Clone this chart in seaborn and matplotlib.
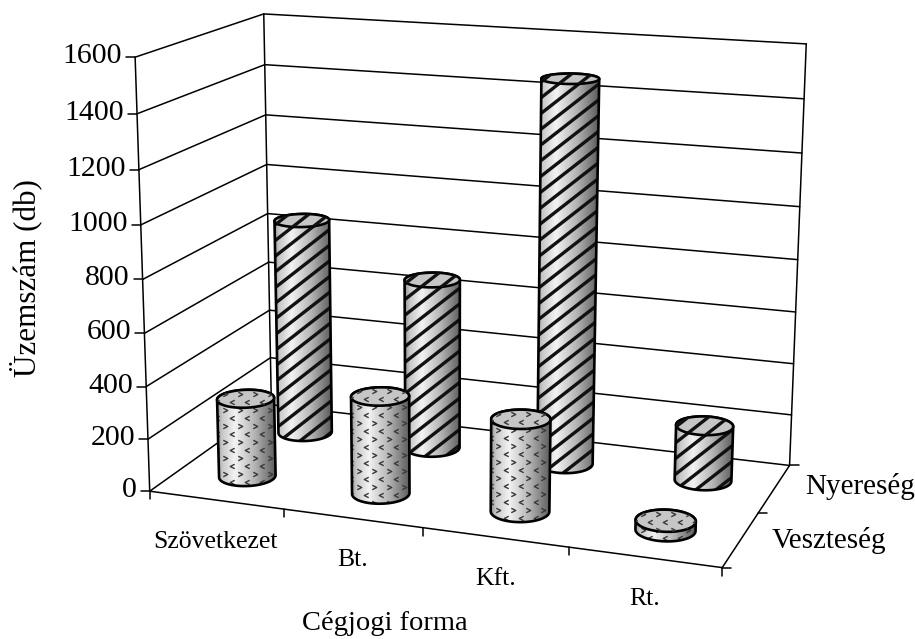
import numpy as np
import pandas as pd
import matplotlib.pyplot as plt
from matplotlib.path import Path
from matplotlib.patches import Polygon
import seaborn as sns

## Daten
categories = ['Szövetkezet', 'Bt.', 'Kft.', 'Rt.']
series_names = ['Veszteség', 'Nyereség']
veszteseg = [302, 370, 345, 35]
nyereseg = [855, 668, 1470, 212]
yticks = [0, 200, 400, 600, 800, 1000, 1200, 1400, 1600]
ymax = 1600

sns.set_theme(style='white')
plt.rcParams['font.family'] = ['Liberation Serif', 'DejaVu Serif']

fig = plt.figure(figsize=(9.15, 6.39), dpi=100)
ax = fig.add_axes([0, 0, 1, 1])
ax.set_xlim(0, 915)
ax.set_ylim(639, 0)
ax.axis('off')

## Kamera: Ecken der Box (Kategorie, Reihe, Wert) -> Pixel
box = np.array([[0, 0, 0], [0, 0, 1], [0, 1, 0], [0, 1, 1], [1, 1, 0], [1, 1, 1], [1, 0, 0]], float)
pix = np.array([[151, 491], [134, 57], [270, 405], [265, 14], [790, 465], [806, 44], [722, 568]], float)
rows = []
for b, p in zip(box, pix):
    h = [*b, 1]
    rows.append([*h, 0, 0, 0, 0, *[-p[0] * v for v in h]])
    rows.append([0, 0, 0, 0, *h, *[-p[1] * v for v in h]])
P = np.linalg.svd(np.array(rows))[2][-1].reshape(3, 4)


def project(cat, ser, val):
    # cat 0..4, ser 0..2, val in Daten-Einheiten
    cat, ser, val = np.broadcast_arrays(cat, ser, val)
    h = np.stack([cat / 4, ser / 2, val / ymax, np.ones(cat.shape)])
    q = P @ h.reshape(4, -1)
    return (q[:2] / q[2]).reshape(2, *cat.shape)


## Gitter und Rahmen
segs = []
def seg_px(xa, ya, xb, yb):
    segs.append(pd.DataFrame({'x': [xa, xb], 'y': [ya, yb], 'id': len(segs)}))

def seg(a, b):
    pa, pb = project(*a), project(*b)
    seg_px(pa[0], pa[1], pb[0], pb[1])

for v in yticks:
    seg((0, 0, v), (0, 2, v))
    seg((0, 2, v), (4, 2, v))
    a = project(0, 0, v)
    seg_px(a[0] - 9, a[1], a[0], a[1])
seg((0, 0, 0), (0, 0, ymax))
seg((0, 2, 0), (0, 2, ymax))
seg((4, 2, 0), (4, 2, ymax))
seg((0, 0, 0), (4, 0, 0))
seg((4, 0, 0), (4, 2, 0))
for c in range(0, 5):
    a = project(c, 0, 0)
    seg_px(a[0], a[1], a[0], a[1] + 8)
for s in [0, 1, 2]:
    a = project(4, s, 0)
    seg_px(a[0], a[1], a[0] + 9, a[1])
lines = pd.concat(segs)
sns.lineplot(data=lines, x='x', y='y', units='id', estimator=None, sort=False,
             color='black', lw=1.1, legend=False, ax=ax)
ax.set_xlabel('')
ax.set_ylabel('')

## Muster
def stripes(clip, x0, x1, y0, y1, z):
    slope = 0.78
    gap = 15.7
    for o in np.arange(y0 - 20, y1 + slope * (x1 - x0) + gap, gap):
        ln, = ax.plot([x0, x1], [o, o - slope * (x1 - x0)], color='#111111', lw=2.4, zorder=z, solid_capstyle='butt')
        ln.set_clip_path(clip)


chev_r = Path([(-1, 1), (1, 0), (-1, -1)], [Path.MOVETO, Path.LINETO, Path.LINETO])
chev_l = Path([(1, 1), (-1, 0), (1, -1)], [Path.MOVETO, Path.LINETO, Path.LINETO])

def chevrons(clip, x0, x1, y0, y1, z):
    for i, y in enumerate(np.arange(y0 - 4, y1 + 8, 8)):
        xs = np.arange(x0 + (i % 2) * 7.5, x1 + 15, 15)
        ln, = ax.plot(xs, np.full(xs.shape, y), ls='none', marker=chev_r if i % 2 else chev_l, ms=3.2,
                      mfc='none', mec='#3a3a3a', mew=1.0, zorder=z)
        ln.set_clip_path(clip)


## Zylinder
t = np.linspace(0, 2 * np.pi, 241)[:-1]
rad_c, rad_s = 0.195, 0.2
shade = np.interp(np.linspace(0, 1, 60), [0, 0.08, 0.3, 0.65, 1], [0.6, 0.78, 0.95, 0.7, 0.36])

def cylinder(cat, ser, val, pattern, z):
    cc = cat + 0.5 + rad_c * np.cos(t)
    ss = ser + 0.5 + rad_s * np.sin(t)
    top = project(cc, ss, np.full(t.shape, float(val)))
    bot = project(cc, ss, np.zeros(t.shape))
    il, ir = top[0].argmin(), top[0].argmax()
    idx = np.roll(np.arange(len(t)), -il)
    pos = (ir - il) % len(t)
    arc_a, arc_b = idx[:pos + 1], idx[pos:]
    # untere Haelfte = Bogen mit groesserem y in Pixeln
    if bot[1][arc_a].mean() > bot[1][arc_b].mean():
        lower, upper = arc_a, np.append(arc_b, il)[::-1]
    else:
        lower, upper = np.append(arc_b, il)[::-1], arc_a
    body = np.array(bot[:, lower].T.tolist() + top[:, upper[::-1]].T.tolist())
    poly = Polygon(body, closed=True, fc='none', ec='black', lw=1.9, zorder=z + 0.5, joinstyle='round')
    ax.add_patch(poly)
    x0, x1, y0, y1 = body[:, 0].min(), body[:, 0].max(), body[:, 1].min(), body[:, 1].max()
    im = ax.imshow(shade[None, :], cmap='gray', vmin=0, vmax=1, extent=[x0, x1, y1, y0], aspect='auto', zorder=z)
    im.set_clip_path(poly)
    pattern(poly, x0, x1, y0, y1, z + 0.1)
    cap = Polygon(top.T, closed=True, fc='#c6c6c6', ec='black', lw=1.9, zorder=z + 0.6)
    ax.add_patch(cap)
    pattern(cap, x0, x1, y0, y1, z + 0.7)


zz = 3
for i, v in enumerate(nyereseg):
    cylinder(i, 1, v, stripes, zz)
    zz += 1
for i, v in enumerate(veszteseg):
    cylinder(i, 0, v, chevrons, zz)
    zz += 1
ax.set_xlim(0, 915)
ax.set_ylim(639, 0)

## Texte
for v in yticks:
    a = project(0, 0, v)
    ax.text(a[0] - 13, a[1] - 1, str(v), ha='right', va='center', fontsize=21.5, color='black')
for i, c in enumerate(categories):
    a = project(i + 0.5, 0, 0)
    ax.text(a[0], a[1] + 42, c, ha='center', va='center', fontsize=18.5, color='black')
ax.text(772, 540, series_names[0], ha='left', va='center', fontsize=21, color='black')
ax.text(805, 487, series_names[1], ha='left', va='center', fontsize=21, color='black')
ax.text(385, 624, 'Cégjogi forma', ha='center', va='center', fontsize=20.5, color='black')
ax.text(25.5, 278, 'Üzemszám (db)', ha='center', va='center', rotation=90, fontsize=22.4, color='black')

fig.savefig('out.png', dpi=100)
